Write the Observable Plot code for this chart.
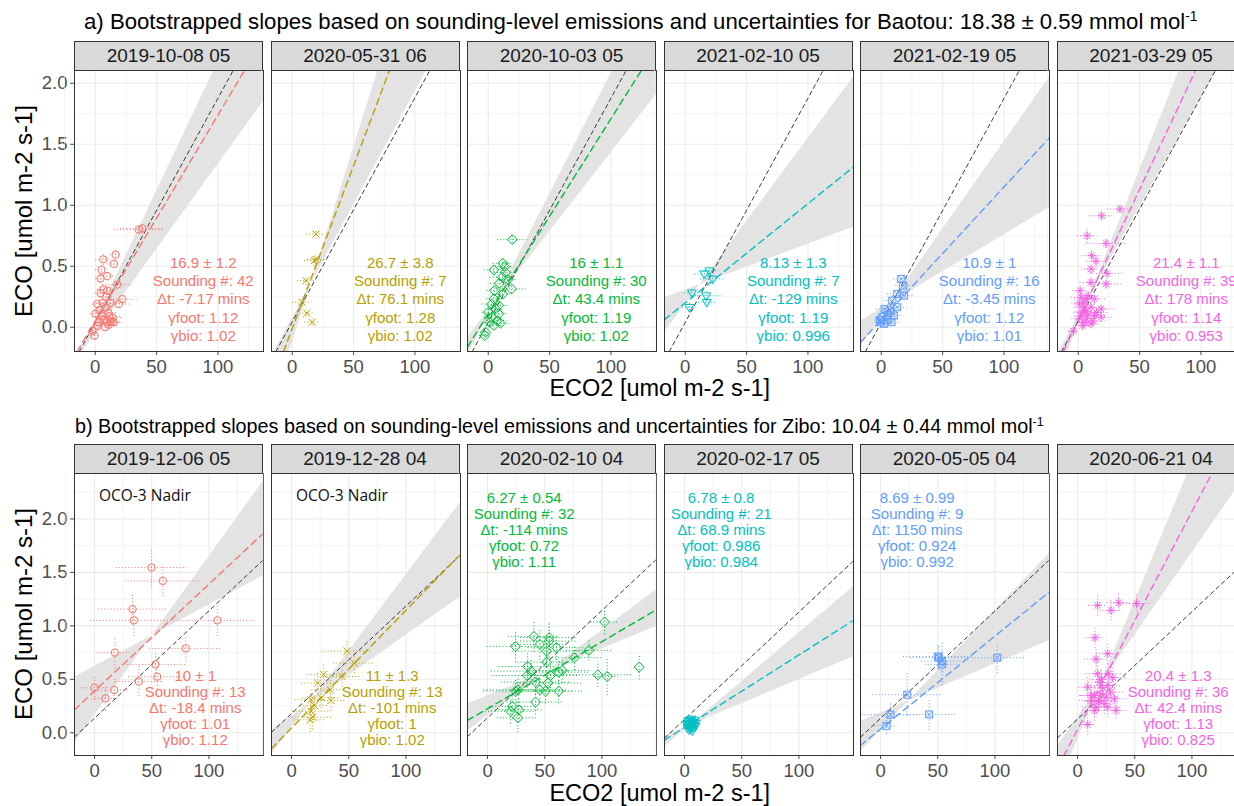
<!DOCTYPE html>
<html><head><meta charset="utf-8">
<script src="https://cdn.jsdelivr.net/npm/d3@7"></script>
<script src="https://cdn.jsdelivr.net/npm/@observablehq/plot@0.6"></script>
<style>
html,body{margin:0;padding:0;background:#fff;overflow:hidden;}
#root{position:relative;width:1234px;height:806px;overflow:hidden;font-family:"Liberation Sans",Arial,Helvetica,sans-serif;}
.strip{position:absolute;box-sizing:border-box;border:1px solid #333;background:#d9d9d9;color:#1a1a1a;font-size:19px;display:flex;align-items:center;justify-content:center;white-space:nowrap;}
.title{position:absolute;white-space:nowrap;color:#000;line-height:1;transform:translateY(-50%);}
.title sup{font-size:0.62em;vertical-align:0.55em;line-height:0;}
.axt{position:absolute;white-space:nowrap;color:#000;font-size:23.5px;line-height:1;transform:translate(-50%,-50%);}
.ayt{position:absolute;white-space:nowrap;color:#000;font-size:24px;line-height:1;transform:translate(-50%,-50%) rotate(-90deg);}
.pl{position:absolute;}
.pl svg{max-width:none !important;}
</style></head><body><div id="root"></div>
<script>
// ---------- shared ----------
const colors = ["#F8766D", "#B79F00", "#00BA38", "#00BFC4", "#619CFF", "#F564E3"];

// ---------- a) Baotou ----------
const btDates = ["2019-10-08 05", "2020-05-31 06", "2020-10-03 05", "2021-02-10 05", "2021-02-19 05", "2021-03-29 05"];
const btSlope = [16.9, 26.7, 16, 8.13, 10.9, 21.4];
const btSlopeErr = [1.2, 3.8, 1.1, 1.3, 1, 1.1];
const btCount = [42, 7, 30, 7, 16, 39];
const btDt = [-7.17, 76.1, 43.4, -129, -3.45, 178];
const btGfoot = [1.12, 1.28, 1.19, 1.19, 1.12, 1.14];
const btGbio = [1.02, 1.02, 1.02, 0.996, 1.01, 0.953];
const btIntercept = [0.05, -0.01, 0.11, 0.2, 0.06, 0.06];
const btMeanSlope = 18.38, btMeanErr = 0.59;
const btMeanIntercept = [0.04, 0.045, 0.04, 0.04, 0.038, 0.05];
const btFanSlopeA = [0.0212, 0.032, 0.0198, 0.0136, 0.01434, 0.0254];
const btFanIntA = [0.055, -0.13, 0.1, 0.187, 0.085, 0.017];
const btFanSlopeB = [0.01395, 0.0186, 0.01295, 0.00376, 0.00605, 0.018];
const btFanIntB = [-0.06, 0.071, 0.135, 0.305, 0.152, 0.084];
const btTextX = [88, 88, 88, 88, 88, 88];
const btTextY = [0.227, 0.227, 0.227, 0.227, 0.227, 0.227];

// points: [ECO2, ECO, ECO2 err, ECO err]
const btPts1 = [[35.5,0.80,20,0.03],[38.3,0.81,18,0.03],[6.5,0.556,6,0.05],[16.5,0.595,5,0.05],[15.2,0.52,5,0.04],[5.1,0.47,5,0.05],[9.7,0.42,6,0.04],[4.3,0.40,4,0.04],[17.9,0.35,12,0.04],[6.5,0.31,5,0.04],[4.3,0.28,4,0.04],[22,0.23,12,0.03],[19.2,0.19,10,0.03],[12.4,0.20,8,0.04],[1.6,0.19,4,0.03],[0.2,0.11,4,0.03],[8.5,0.16,6,0.03],[10.5,0.12,7,0.04],[7,0.06,5,0.03],[12.5,0.05,8,0.03],[9.5,0.04,6,0.03],[13.5,0.04,7,0.03],[11,0.02,6,0.03],[8,0.0,5,0.03],[3,0.04,4,0.03],[15.2,0.04,8,0.03],[-2.2,-0.03,3,0.03],[-0.6,-0.07,3,0.03],[2,0.01,4,0.03],[5.5,0.09,5,0.03],[9,0.25,6,0.04],[14,0.08,9,0.03],[11.5,0.09,10,0.03],[6,0.2,5,0.04],[10,0.3,6,0.04],[3.5,0.14,4,0.03]];
const btPts2 = [[19.4,0.764,8,0.04],[18,0.546,8,0.05],[19.4,0.555,7,0.04],[11.2,0.382,7,0.04],[8,0.205,8,0.04],[11.8,0.115,6,0.03],[16.1,0.041,6,0.03]];
const btPts3 = [[19.6,0.718,12,0.03],[11.9,0.524,8,0.05],[4.6,0.47,8,0.05],[13.5,0.497,8,0.04],[11.4,0.41,10,0.05],[16,0.39,8,0.04],[19,0.314,12,0.04],[11.9,0.273,8,0.04],[4.6,0.232,6,0.05],[2.7,0.19,8,0.04],[6,0.15,6,0.04],[0,0.123,5,0.04],[8.6,0.11,8,0.04],[2.9,0.082,6,0.04],[7.3,0.055,8,0.03],[1,0.041,5,0.03],[10,0.033,8,0.03],[4.6,0.014,6,0.03],[-2.2,-0.04,4,0.03],[-2.8,-0.068,4,0.03],[8.6,0.178,9,0.04],[5,0.30,6,0.04],[9,0.36,7,0.04],[14,0.45,9,0.04]];
const btPts4 = [[15.6,0.437,8,0.03],[19.6,0.464,8,0.03],[22.4,0.396,10,0.03],[5.5,0.282,6,0.03],[17,0.259,12,0.03],[17.5,0.205,9,0.03],[3.4,0.164,6,0.03]];
const btPts5 = [[16.3,0.396,6,0.03],[17.9,0.341,6,0.03],[13,0.273,8,0.03],[18.4,0.259,9,0.03],[9,0.218,7,0.03],[13,0.164,8,0.03],[2.7,0.15,7,0.03],[7.6,0.137,6,0.03],[10.3,0.096,8,0.03],[0.8,0.082,5,0.03],[4.9,0.06,6,0.03],[-0.6,0.041,4,0.03],[8.4,0.041,8,0.03],[2.1,0.028,5,0.03],[-1.1,0.06,4,0.03],[5.5,0.1,6,0.03]];
const btPts6 = [[34,0.969,10,0.03],[19.1,0.914,10,0.04],[7.2,0.75,8,0.06],[22.7,0.687,16,0.04],[11,0.587,8,0.05],[14.5,0.54,8,0.05],[10.4,0.478,8,0.04],[23.5,0.442,14,0.04],[10.4,0.368,9,0.04],[22.7,0.355,14,0.04],[2.3,0.245,8,0.04],[6.4,0.232,9,0.04],[13.1,0.232,10,0.04],[0.9,0.191,6,0.04],[5,0.164,8,0.04],[10.4,0.164,9,0.04],[18.6,0.15,12,0.04],[2.3,0.123,6,0.04],[7.7,0.11,8,0.04],[13.1,0.096,10,0.04],[18.6,0.082,10,0.04],[0.9,0.069,6,0.04],[5,0.041,7,0.04],[3.7,0.014,6,0.04],[10.4,0.028,8,0.04],[-4,-0.033,4,0.04],[4,0.2,7,0.04],[8,0.26,8,0.04],[3,0.09,6,0.04],[7,0.07,7,0.03],[15,0.12,10,0.04],[12,0.05,8,0.03],[1.5,0.3,6,0.04],[6,0.13,8,0.04]];

// ---------- b) Zibo ----------
const zbDates = ["2019-12-06 05", "2019-12-28 04", "2020-02-10 04", "2020-02-17 05", "2020-05-05 04", "2020-06-21 04"];
const zbSlope = [10, 11, 6.27, 6.78, 8.69, 20.4];
const zbSlopeErr = [1, 1.3, 0.54, 0.8, 0.99, 1.3];
const zbCount = [13, 13, 32, 21, 9, 36];
const zbDt = [-18.4, -101, -114, 68.9, 1150, 42.4];
const zbGfoot = [1.01, 1, 0.72, 0.986, 0.924, 1.13];
const zbGbio = [1.12, 1.02, 1.11, 0.984, 0.992, 0.825];
const zbIntercept = [0.39, 0.045, 0.225, 0.05, 0.035, 0.03];
const zbMeanSlope = 10.04, zbMeanErr = 0.44;
const zbMeanIntercept = [0.136, 0.18, 0.14, 0.125, 0.135, 0.128];
const zbFanSlopeA = [0.01486, 0.01429, 0.00799, 0.00908, 0.01122, 0.0259];
const zbFanIntA = [0.16, 0.046, 0.157, 0.025, 0.02, -0.068];
const zbFanSlopeB = [0.00575, 0.00757, 0.00439, 0.0045, 0.00459, 0.0154];
const zbFanIntB = [0.62, 0.155, 0.346, 0.047, 0.185, 0.142];
const zbTextX = [88, 88, 32, 32, 32, 88];
const zbTextY = [0.234, 0.234, 1.894, 1.894, 1.894, 0.234];
const zbNote = ["OCO-3 Nadir", "OCO-3 Nadir", "", "", "", ""];
const zbNoteX = 44, zbNoteY = 2.215;

const zbPts1 = [[49.8,1.545,31,0.18],[59.7,1.42,33,0.15],[33.2,1.157,30,0.15],[34.4,1.051,38,0.15],[107.3,1.051,33,0.15],[17.8,0.749,15,0.15],[79.8,0.789,32,0.12],[53.3,0.639,28,0.12],[54.8,0.524,25,0.12],[38.7,0.48,20,0.14],[0,0.421,12,0.12],[17.2,0.399,14,0.12],[9.6,0.321,12,0.12]];
const zbPts2 = [[48.5,0.764,22,0.1],[54.9,0.652,18,0.1],[28.1,0.546,14,0.1],[44.1,0.527,16,0.1],[22.9,0.465,14,0.1],[33.9,0.402,14,0.1],[25.8,0.328,16,0.1],[34.5,0.302,14,0.1],[17,0.309,14,0.1],[19.9,0.256,12,0.1],[17,0.202,16,0.1],[18.5,0.146,18,0.12],[16.4,0.122,14,0.12]];
const zbPts3 = [[102.3,1.036,12,0.12],[132.6,0.614,0,0.12],[104.6,0.527,10,0.18],[96.4,0.543,30,0.12],[88.6,0.771,20,0.1],[76,0.702,25,0.12],[60.3,0.796,25,0.12],[53.9,0.89,25,0.15],[53.9,0.858,25,0.15],[40.5,0.902,22,0.15],[45.7,0.827,25,0.15],[51.6,0.764,30,0.15],[24.5,0.808,25,0.15],[51.6,0.661,25,0.15],[38.2,0.577,35,0.12],[34.7,0.536,30,0.12],[55.1,0.536,25,0.12],[62.3,0.567,28,0.12],[65.3,0.583,25,0.12],[42,0.474,30,0.12],[52.7,0.465,30,0.12],[26.8,0.402,30,0.12],[45.7,0.402,25,0.12],[50.7,0.39,25,0.12],[62.3,0.39,22,0.12],[24.5,0.39,28,0.12],[42,0.287,25,0.12],[21.6,0.246,20,0.12],[20.1,0.202,22,0.12],[27.4,0.215,20,0.12],[26.5,0.14,18,0.14],[35,0.62,25,0.13]];
const zbPts4 = [[5.7,0.084,3,0.03],[4,0.06,3,0.03],[7.5,0.1,3,0.03],[3,0.11,2.5,0.03],[6,0.13,3,0.03],[8.5,0.07,3,0.03],[2.5,0.05,2.5,0.03],[5,0.04,3,0.03],[9,0.12,3,0.03],[4.5,0.09,3,0.03],[6.5,0.06,3,0.03],[3.5,0.075,3,0.03],[7,0.045,3,0.03],[10,0.09,3,0.03],[5.5,0.11,3,0.03],[2,0.08,2.5,0.03],[8,0.095,3,0.03],[4.2,0.12,3,0.03],[6.8,0.02,3,0.03],[3.8,0.03,3,0.03],[9.5,0.06,3,0.03]];
const zbPts5 = [[51,0.702,25,0.12],[53.9,0.67,18,0.1],[53.9,0.64,15,0.2],[102,0.702,25,0.15],[23.3,0.356,30,0.2],[8.7,0.169,25,0.12],[42.5,0.171,25,0.15],[5.2,0.065,10,0.08],[50.1,0.714,30,0.12]];
const zbPts6 = [[17.6,1.192,8,0.1],[29.3,1.145,10,0.1],[36,1.217,10,0.08],[51.7,1.208,12,0.08],[15.3,0.889,8,0.1],[26.4,0.74,10,0.1],[16.2,0.689,10,0.1],[17.6,0.552,10,0.12],[26.9,0.552,12,0.1],[30.8,0.515,12,0.1],[8.9,0.427,8,0.1],[19.1,0.474,12,0.1],[26.4,0.443,12,0.1],[14.7,0.349,12,0.1],[20.5,0.365,12,0.1],[24.9,0.333,12,0.1],[28.7,0.38,12,0.1],[11.8,0.302,10,0.1],[19.1,0.302,12,0.1],[23.4,0.272,12,0.1],[32.2,0.318,12,0.1],[16.2,0.24,12,0.1],[26.4,0.24,12,0.1],[11.8,0.349,10,0.1],[33.7,0.209,10,0.08],[14.7,0.209,10,0.1],[8.9,0.078,6,0.1],[22,0.42,12,0.1],[18,0.29,12,0.1],[21,0.5,10,0.1]];

const xTicks = [0, 50, 100];
const xMinor = [-25, 25, 75, 125];
const yTicks = [0, 0.5, 1, 1.5, 2];

// ---------- symbols (ggplot shapes 1,4,5,6,7,8) ----------
const rad = s => Math.sqrt(s / Math.PI);
const symCircle = {draw(c, s) { const r = rad(s); c.moveTo(r, 0); c.arc(0, 0, r, 0, 2 * Math.PI); }};
const symTimes = {draw(c, s) { const a = rad(s) * 0.95; c.moveTo(-a, -a); c.lineTo(a, a); c.moveTo(-a, a); c.lineTo(a, -a); }};
const symDiamond = {draw(c, s) { const a = rad(s) * 1.35; c.moveTo(0, -a); c.lineTo(a, 0); c.lineTo(0, a); c.lineTo(-a, 0); c.closePath(); }};
const symTriDown = {draw(c, s) { const r = rad(s); c.moveTo(-1.2 * r, -0.75 * r); c.lineTo(1.2 * r, -0.75 * r); c.lineTo(0, 1.35 * r); c.closePath(); }};
const symSqCross = {draw(c, s) { const a = rad(s) * 0.95; c.moveTo(-a, -a); c.lineTo(a, -a); c.lineTo(a, a); c.lineTo(-a, a); c.closePath(); c.moveTo(-a, -a); c.lineTo(a, a); c.moveTo(-a, a); c.lineTo(a, -a); }};
const symAster = {draw(c, s) { const a = rad(s) * 1.2, d = a * 0.72; c.moveTo(0, -a); c.lineTo(0, a); c.moveTo(-a, 0); c.lineTo(a, 0); c.moveTo(-d, -d); c.lineTo(d, d); c.moveTo(-d, d); c.lineTo(d, -d); }};
const symbols = [symCircle, symTimes, symDiamond, symTriDown, symSqCross, symAster];

const rows = [
  {
    title: `a) Bootstrapped slopes based on sounding-level emissions and uncertainties for Baotou: ${btMeanSlope} ± ${btMeanErr} mmol mol<sup>-1</sup>`,
    titleX: 84, titleY: 22, titleSize: 22.2,
    stripTop: 41, top: 70, H: 281, xd: [-16.9, 137.1], yd: [-0.199, 2.105],
    yMinor: [0.25, 0.75, 1.25, 1.75], gap: 18.25, xTitleY: 389,
    dates: btDates, slope: btSlope, err: btSlopeErr, count: btCount, dt: btDt, gfoot: btGfoot, gbio: btGbio,
    icpt: btIntercept, mean: btMeanSlope, meanIcpt: btMeanIntercept,
    fA: btFanSlopeA, iA: btFanIntA, fB: btFanSlopeB, iB: btFanIntB,
    tx: btTextX, ty: btTextY, note: null,
    pts: [btPts1, btPts2, btPts3, btPts4, btPts5, btPts6]
  },
  {
    title: `b) Bootstrapped slopes based on sounding-level emissions and uncertainties for Zibo: ${zbMeanSlope} ± ${zbMeanErr} mmol mol<sup>-1</sup>`,
    titleX: 75, titleY: 427, titleSize: 19.8,
    stripTop: 444, top: 473, H: 282, xd: [-17.5, 147.7], yd: [-0.2125, 2.425],
    yMinor: [0.25, 0.75, 1.25, 1.75, 2.25], gap: 16, xTitleY: 794,
    dates: zbDates, slope: zbSlope, err: zbSlopeErr, count: zbCount, dt: zbDt, gfoot: zbGfoot, gbio: zbGbio,
    icpt: zbIntercept, mean: zbMeanSlope, meanIcpt: zbMeanIntercept,
    fA: zbFanSlopeA, iA: zbFanIntA, fB: zbFanSlopeB, iB: zbFanIntB,
    tx: zbTextX, ty: zbTextY, note: zbNote,
    pts: [zbPts1, zbPts2, zbPts3, zbPts4, zbPts5, zbPts6]
  }
];

const root = document.getElementById("root");
const PW = 189, PITCH = 196.5, P0 = 74;

function seg(a, b, xd, yd) {
  const xa = (yd[0] - a) / b, xb = (yd[1] - a) / b;
  const lo = Math.max(xd[0], Math.min(xa, xb)), hi = Math.min(xd[1], Math.max(xa, xb));
  return [[lo, a + b * lo], [hi, a + b * hi]];
}

function add(tag, cls, html, style) {
  const el = document.createElement(tag);
  el.className = cls; el.innerHTML = html;
  Object.assign(el.style, style);
  root.appendChild(el);
  return el;
}

for (const row of rows) {
  add("div", "title", row.title, {left: row.titleX + "px", top: row.titleY + "px", fontSize: row.titleSize + "px"});
  add("div", "ayt", "ECO [umol m-2 s-1]", {left: "24px", top: (row.top + row.H / 2) + "px"});
  add("div", "axt", "ECO2 [umol m-2 s-1]", {left: (P0 + (6 * PW + 5 * (PITCH - PW)) / 2) + "px", top: row.xTitleY + "px"});
  const [x0, x1] = row.xd, [y0, y1] = row.yd;
  const clampY = v => Math.max(y0, Math.min(y1, v));
  for (let i = 0; i < 6; i++) {
    const left = P0 + PITCH * i;
    const color = colors[i];
    add("div", "strip", row.dates[i], {left: left + "px", top: row.stripTop + "px", width: PW + "px", height: (row.top - row.stripTop + 1) + "px"});
    const mL = i === 0 ? 50 : 0, mB = 44;
    // envelope of the bootstrapped slope lines, evaluated across the panel
    const fan = d3.range(0, 161).map(k => {
      const x = x0 + (x1 - x0) * k / 160;
      const ya = row.iA[i] + row.fA[i] * x, yb = row.iB[i] + row.fB[i] * x;
      return {x, lo: clampY(Math.min(ya, yb)), hi: clampY(Math.max(ya, yb))};
    });
    const blk = seg(row.meanIcpt[i], row.mean / 1000, row.xd, row.yd);
    const col = seg(row.icpt[i], row.slope[i] / 1000, row.xd, row.yd);
    const pts = row.pts[i];
    const lines = [`${row.slope[i]} ± ${row.err[i]}`, `Sounding #: ${row.count[i]}`, `Δt: ${row.dt[i]} mins`, `γfoot: ${row.gfoot[i]}`, `γbio: ${row.gbio[i]}`];
    const marks = [
      Plot.ruleX(xMinor, {stroke: "#ececec", strokeWidth: 0.6}),
      Plot.ruleY(row.yMinor, {stroke: "#ececec", strokeWidth: 0.6}),
      Plot.ruleX(xTicks, {stroke: "#ebebeb", strokeWidth: 1.1}),
      Plot.ruleY(yTicks, {stroke: "#ebebeb", strokeWidth: 1.1}),
      Plot.areaY(fan, {x: "x", y1: "lo", y2: "hi", fill: "#e3e3e3", clip: true}),
      Plot.line(blk, {x: d => d[0], y: d => d[1], stroke: "#222", strokeWidth: 0.9, strokeDasharray: "4,3.5", clip: true}),
      Plot.line(col, {x: d => d[0], y: d => d[1], stroke: color, strokeWidth: 1.4, strokeDasharray: "6.5,4.5", clip: true}),
      Plot.ruleY(pts, {y: d => d[1], x1: d => d[0] - d[2], x2: d => d[0] + d[2], stroke: color, strokeWidth: 1, strokeDasharray: "1,2.2", clip: true}),
      Plot.ruleX(pts, {x: d => d[0], y1: d => d[1] - d[3], y2: d => d[1] + d[3], stroke: color, strokeWidth: 1, strokeDasharray: "1,2.2", clip: true}),
      Plot.dot(pts, {x: d => d[0], y: d => d[1], r: 3.7, symbol: symbols[i], stroke: color, strokeWidth: 1, fill: "none"}),
      ...lines.map((t, k) => Plot.text([t], {x: () => row.tx[i], y: () => row.ty[i], text: d => d, dy: (k - 2) * row.gap, fill: color, fontSize: 15, fontFamily: "Liberation Sans, Arial, sans-serif"})),
      Plot.frame({stroke: "#333", strokeWidth: 1})
    ];
    if (row.note && row.note[i]) {
      marks.push(Plot.text([row.note[i]], {x: () => zbNoteX, y: () => zbNoteY, text: d => d, fill: "#111", fontSize: 15.5, fontFamily: "Open Sans, Lato, sans-serif"}));
    }
    const svg = Plot.plot({
      width: PW + mL, height: row.H + mB,
      marginLeft: mL, marginRight: 0, marginTop: 0, marginBottom: mB,
      style: {fontFamily: "Liberation Sans, Arial, sans-serif", fontSize: "18.5px", color: "#4d4d4d", background: "transparent", overflow: "visible", maxWidth: "none"},
      x: {domain: row.xd, ticks: xTicks, tickSize: 4, tickPadding: 4, label: null},
      y: {domain: row.yd, ticks: yTicks, tickSize: 4, tickPadding: 3, label: null, tickFormat: d => d.toFixed(1), axis: i === 0 ? "left" : null},
      marks
    });
    const wrap = document.createElement("div");
    wrap.className = "pl";
    wrap.style.left = (left - mL) + "px";
    wrap.style.top = row.top + "px";
    wrap.style.width = (PW + mL) + "px";
    wrap.style.height = (row.H + mB) + "px";
    wrap.appendChild(svg);
    root.appendChild(wrap);
  }
}
</script></body></html>
